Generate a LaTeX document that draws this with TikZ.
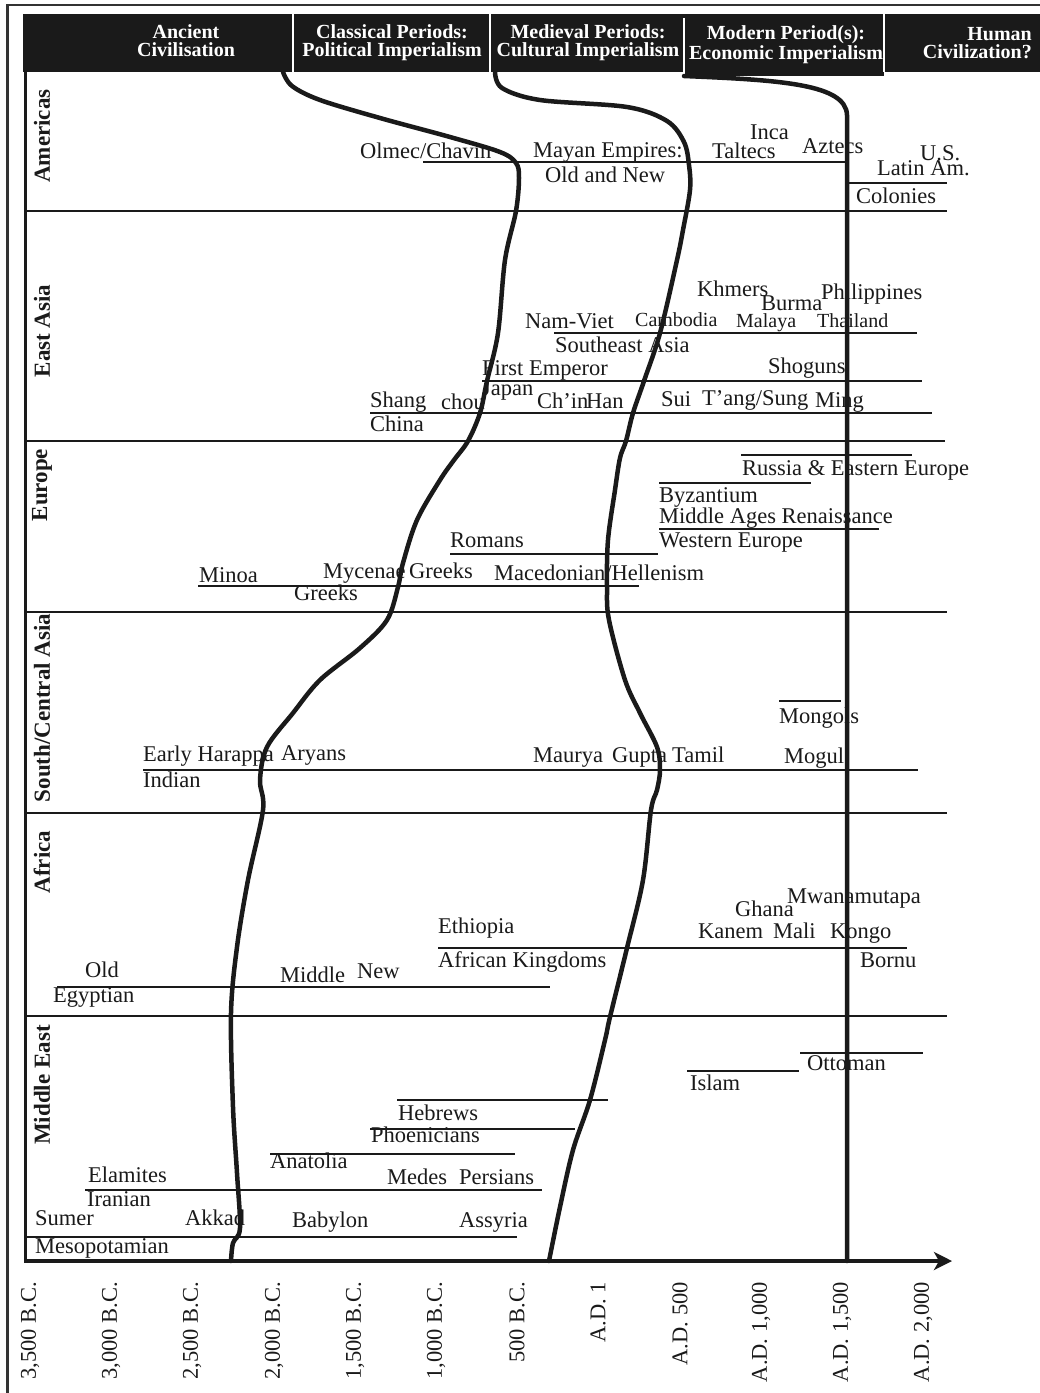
\documentclass[tikz,border=0pt]{standalone}
\usepackage{fontspec}
\setmainfont{Liberation Serif}
\usetikzlibrary{arrows.meta}
\definecolor{ink}{HTML}{1A1A1A}
\begin{document}
\begin{tikzpicture}[x=1pt,y=-1pt,
 lbl/.style={anchor=base west, inner sep=0pt, font=\fontsize{22.5}{27}\selectfont, text=ink},
 lblsm/.style={lbl, font=\fontsize{20}{24}\selectfont},
 evline/.style={line width=2.2pt, draw=ink},
 regline/.style={line width=2.6pt, draw=ink},
 eracurve/.style={line width=4.5pt, draw=ink, line cap=round, line join=round},
 hdr/.style={text=white, font=\bfseries\fontsize{20}{18}\selectfont, align=center, anchor=base, inner sep=0pt},
 regname/.style={rotate=90, font=\bfseries\fontsize{23}{27}\selectfont, text=ink, inner sep=0pt},
 ticklbl/.style={rotate=90, anchor=east, font=\fontsize{22.5}{27}\selectfont, text=ink, inner sep=0pt}]
\useasboundingbox (0,0) rectangle (1040,1393);
\fill[white] (0,0) rectangle (1040,1393);
% outer frame
\draw[line width=2.4pt, draw=black!80] (7.5,1393) -- (7.5,5) -- (1040,5);
% header
\fill[ink] (23,14) rectangle (1040,72);
\fill[ink] (684,17) rectangle (884,76);
\draw[white, line width=1.6pt] (293,14) -- (293,72) (490,14) -- (490,72) (684,18) -- (684,76) (884,14) -- (884,72);
\node[hdr] (h1) at (186,56) {Ancient\\Civilisation};
\node[hdr] (h2) at (392,56) {Classical Periods:\\Political Imperialism};
\node[hdr] (h3) at (588,56) {Medieval Periods:\\Cultural Imperialism};
\node[hdr] (h4) at (786,59) {Modern Period(s):\\Economic Imperialism};
\node[hdr, align=right, anchor=base east] (h5) at (1032,58) {Human\\Civilization?};
% left border
\draw[line width=3.5pt, draw=ink] (25.5,72) -- (25.5,1261);
% region separators
\draw[regline] (25,211) -- (947,211);
\draw[regline] (25,441) -- (945,441);
\draw[regline] (25,612) -- (947,612);
\draw[regline] (25,813) -- (947,813);
\draw[regline] (25,1016) -- (947,1016);
% region names
\node[regname] (rAm) at (42,136) {Americas};
\node[regname] (rEA) at (42,331) {East Asia};
\node[regname] (rEu) at (42,485) {Europe};
\node[regname] (rSC) at (42,708) {South/Central Asia};
\node[regname] (rAf) at (42,862) {Africa};
\node[regname] (rME) at (42,1085) {Middle East};
% ---------- Americas
\draw[evline] (423,162) -- (848,162);
\draw[evline] (848,183) -- (947,183);
\node[lbl] (olmec) at (360,158) {Olmec/Chavin};
\node[lbl] (mayan) at (533,157) {Mayan Empires:};
\node[lbl] (oldnew) at (545,182) {Old and New};
\node[lbl] (inca) at (750,139) {Inca};
\node[lbl] (taltecs) at (712,158) {Taltecs};
\node[lbl] (aztecs) at (802,153) {Aztecs};
\node[lbl] (us) at (920,160) {U.S.};
\node[lbl] (latin) at (877,175) {Latin Am.};
\node[lbl] (colonies) at (856,203) {Colonies};
% ---------- East Asia
\draw[evline] (554,333) -- (917,333);
\draw[evline] (482,381) -- (922,381);
\draw[evline] (370,413) -- (932,413);
\node[lbl] (khmers) at (697,296) {Khmers};
\node[lbl] (burma) at (761,310) {Burma};
\node[lbl] (phil) at (821,299) {Philippines};
\node[lbl] (namviet) at (525,328) {Nam-Viet};
\node[lblsm] (cambodia) at (635,326) {Cambodia};
\node[lblsm] (malaya) at (736,327) {Malaya};
\node[lblsm] (thailand) at (817,327) {Thailand};
\node[lbl] (seasia) at (555,352) {Southeast Asia};
\node[lbl] (firstemp) at (482,375) {First Emperor};
\node[lbl] (shoguns) at (768,373) {Shoguns};
\node[lbl] (japan) at (482,395) {Japan};
\node[lbl] (shang) at (370,407) {Shang};
\node[lbl] (chou) at (441,409) {chou};
\node[lbl] (chin) at (537,408) {Ch’in};
\node[lbl] (han) at (586,408) {Han};
\node[lbl] (sui) at (661,406) {Sui};
\node[lbl] (tang) at (702,405) {T’ang/Sung};
\node[lbl] (ming) at (815,407) {Ming};
\node[lbl] (china) at (370,431) {China};
% ---------- Europe
\draw[evline] (741,455) -- (912,455);
\draw[evline] (659,483) -- (811,483);
\draw[evline] (659,529) -- (879,529);
\draw[evline] (450,554) -- (658,554);
\draw[evline] (198,586) -- (639,586);
\node[lbl] (russia) at (742,475) {Russia \& Eastern Europe};
\node[lbl] (byz) at (659,502) {Byzantium};
\node[lbl] (midages) at (659,523) {Middle Ages Renaissance};
\node[lbl] (weur) at (659,547) {Western Europe};
\node[lbl] (romans) at (450,547) {Romans};
\node[lbl] (minoa) at (199,582) {Minoa};
\node[lbl] (mycenae) at (323,578) {Mycenae};
\node[lbl] (greeks1) at (409,578) {Greeks};
\node[lbl] (maced) at (494,580) {Macedonian/Hellenism};
\node[lbl] (greeks2) at (294,600) {Greeks};
% ---------- South/Central Asia
\draw[evline] (779,701) -- (841,701);
\draw[evline] (143,770) -- (918,770);
\node[lbl] (mongols) at (779,723) {Mongols};
\node[lbl] (harappa) at (143,761) {Early Harappa};
\node[lbl] (aryans) at (281,760) {Aryans};
\node[lbl] (maurya) at (533,762) {Maurya};
\node[lbl] (gupta) at (612,762) {Gupta};
\node[lbl] (tamil) at (672,762) {Tamil};
\node[lbl] (mogul) at (784,763) {Mogul};
\node[lbl] (indian) at (143,787) {Indian};
% ---------- Africa
\draw[evline] (438,948) -- (907,948);
\draw[evline] (57,987) -- (550,987);
\node[lbl] (mwana) at (787,903) {Mwanamutapa};
\node[lbl] (ghana) at (735,916) {Ghana};
\node[lbl] (ethiopia) at (438,933) {Ethiopia};
\node[lbl] (kanem) at (698,938) {Kanem};
\node[lbl] (mali) at (773,938) {Mali};
\node[lbl] (kongo) at (830,938) {Kongo};
\node[lbl] (afking) at (438,967) {African Kingdoms};
\node[lbl] (bornu) at (860,967) {Bornu};
\node[lbl] (old) at (85,977) {Old};
\node[lbl] (middle) at (280,982) {Middle};
\node[lbl] (new) at (357,978) {New};
\node[lbl] (egypt) at (53,1002) {Egyptian};
% ---------- Middle East
\draw[evline] (800,1053) -- (923,1053);
\draw[evline] (687,1071) -- (799,1071);
\draw[evline] (397,1100) -- (608,1100);
\draw[evline] (370,1129) -- (575,1129);
\draw[evline] (270,1154) -- (515,1154);
\draw[evline] (85,1190) -- (542,1190);
\draw[evline] (27,1237) -- (517,1237);
\node[lbl] (ottoman) at (807,1070) {Ottoman};
\node[lbl] (islam) at (690,1090) {Islam};
\node[lbl] (hebrews) at (398,1120) {Hebrews};
\node[lbl] (phoen) at (371,1142) {Phoenicians};
\node[lbl] (anatolia) at (270,1168) {Anatolia};
\node[lbl] (elamites) at (88,1182) {Elamites};
\node[lbl] (medes) at (387,1184) {Medes};
\node[lbl] (persians) at (459,1184) {Persians};
\node[lbl] (iranian) at (87,1206) {Iranian};
\node[lbl] (sumer) at (35,1225) {Sumer};
\node[lbl] (akkad) at (185,1225) {Akkad};
\node[lbl] (babylon) at (292,1227) {Babylon};
\node[lbl] (assyria) at (459,1227) {Assyria};
\node[lbl] (meso) at (35,1253) {Mesopotamian};
% ---------- era curves
\draw[eracurve] plot[smooth, tension=0.55] coordinates {(283,72) (292,86) (320,100) (380,118) (450,137) (500,152) (516,163) (519,178) (516,211) (505,260) (498,333) (487,381) (480,413) (468,441) (454,460) (440,480) (417,520) (403,563) (398,587) (387,620) (360,648) (320,680) (293,713) (267,747) (260,780) (263,810) (248,880) (237,947) (231,1013) (233,1107) (237,1173) (240,1228) (233,1243) (231,1261)};
\draw[eracurve] plot[smooth, tension=0.55] coordinates {(495,72) (502,88) (540,100) (627,107) (667,121) (684,142) (689,165) (690,190) (683,230) (677,260) (660,333) (644,381) (633,413) (626,441) (620,458) (615,490) (608,540) (607,587) (609,620) (625,680) (640,713) (657,747) (660,770) (657,790) (651,810) (643,880) (627,948) (610,1017) (605,1040) (590,1100) (573,1150) (560,1207) (549,1261)};
\draw[eracurve] (684,76) .. controls (780,80) and (846,84) .. (847,115) -- (847,1261);
% ---------- axis
\draw[line width=4.5pt, draw=ink, -{Stealth[length=18pt,width=18pt,inset=5pt]}] (24,1261) -- (952,1261);
\node[ticklbl] (t1) at (30,1282) {3,500 B.C.};
\node[ticklbl] (t2) at (111,1282) {3,000 B.C.};
\node[ticklbl] (t3) at (192,1282) {2,500 B.C.};
\node[ticklbl] (t4) at (274,1282) {2,000 B.C.};
\node[ticklbl] (t5) at (355,1282) {1,500 B.C.};
\node[ticklbl] (t6) at (436,1282) {1,000 B.C.};
\node[ticklbl] (t7) at (517,1282) {500 B.C.};
\node[ticklbl] (t8) at (598,1282) {A.D. 1};
\node[ticklbl] (t9) at (680,1282) {A.D. 500};
\node[ticklbl] (t10) at (761,1282) {A.D. 1,000};
\node[ticklbl] (t11) at (842,1282) {A.D. 1,500};
\node[ticklbl] (t12) at (923,1282) {A.D. 2,000};
\end{tikzpicture}
\end{document}
